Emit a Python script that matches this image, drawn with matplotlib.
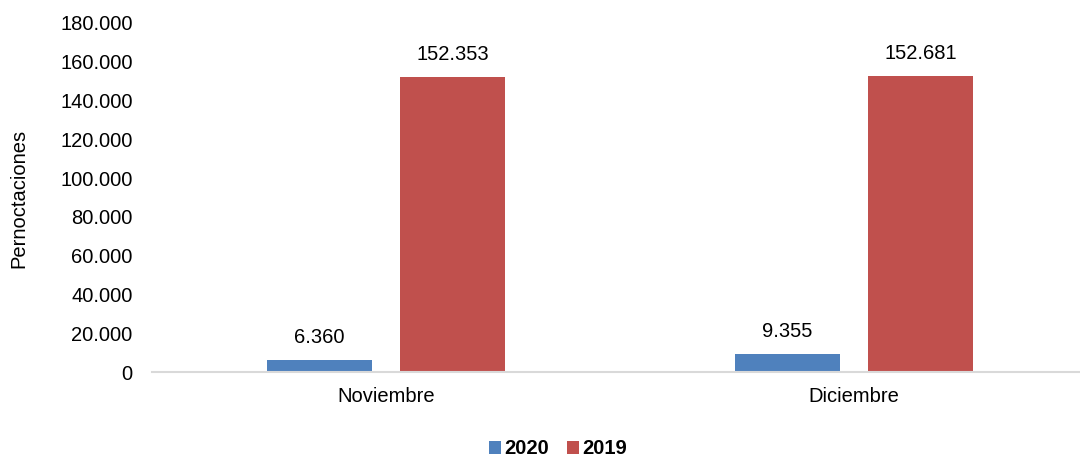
import matplotlib.pyplot as plt
import numpy as np

plt.rcParams['font.family'] = ['Liberation Sans', 'DejaVu Sans']

meses = ["Noviembre", "Diciembre"]
series = ["2020", "2019"]
valores_2020 = [6360, 9355]
valores_2019 = [152353, 152681]
yticks = list(range(0, 180001, 20000))

colores = ["#4F81BD", "#C0504D"]
fs = 14.5


def fmt(v):
    return f"{v:,}".replace(",", ".")


fig = plt.figure(figsize=(10.8, 4.57), dpi=100)
ax = fig.add_axes([152 / 1080, 1 - 372 / 457, 936 / 1080, 349 / 457])

x = np.arange(len(meses))
ancho = 0.224
desp = 0.142

for vals, d, c, lab in [(valores_2020, -desp, colores[0], series[0]),
                        (valores_2019, desp, colores[1], series[1])]:
    barras = ax.bar(x + d, vals, width=ancho, color=c, label=lab)
    for b, v in zip(barras, vals):
        ax.annotate(fmt(v), (b.get_x() + b.get_width() / 2, v),
                    xytext=(0, 9), textcoords="offset points",
                    ha="center", va="bottom", fontsize=fs)

ax.set_xlim(-0.5, 1.5)
ax.set_ylim(0, 180000)
ax.set_yticks(yticks)
ax.set_yticklabels([fmt(v) for v in yticks], fontsize=fs)
ax.set_xticks(x)
ax.set_xticklabels(meses, fontsize=fs)
ax.tick_params(axis="y", length=0, pad=14)
ax.tick_params(axis="x", length=0, pad=11)

for s in ["top", "right", "left"]:
    ax.spines[s].set_visible(False)
ax.spines["bottom"].set_color("#D9D9D9")
ax.spines["bottom"].set_linewidth(1.5)

fig.text(19 / 1080, 1 - 198 / 457, "Pernoctaciones", rotation=90,
         ha="center", va="center", fontsize=fs)

leg = fig.legend(loc="center", bbox_to_anchor=(558 / 1080, 1 - 449 / 457),
                 ncol=2, frameon=False, prop={"weight": "bold", "size": fs},
                 handlelength=0.6, handleheight=0.6, handletextpad=0.15,
                 columnspacing=0.9)

fig.savefig("out.png", dpi=100)
